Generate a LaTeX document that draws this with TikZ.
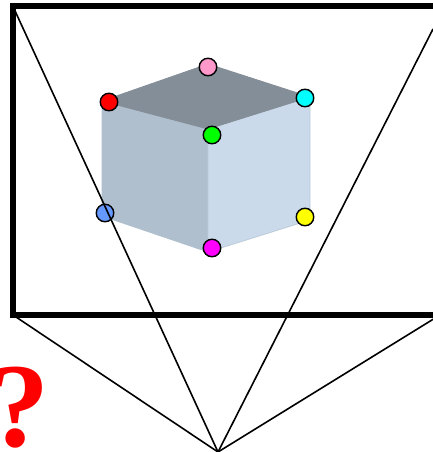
\documentclass[tikz,border=0pt]{standalone}
\usepackage{fontspec}
\setmainfont{Liberation Serif}
\definecolor{topface}{HTML}{848E98}
\definecolor{leftface}{HTML}{AFBFCE}
\definecolor{rightface}{HTML}{CADAEA}
\definecolor{edgelight}{HTML}{BCCBDA}
\definecolor{dotcyan}{RGB}{0,255,255}
\definecolor{dotmagenta}{RGB}{255,0,255}
\definecolor{dotgreen}{RGB}{0,255,0}
\definecolor{dotred}{RGB}{255,0,0}
\definecolor{dotyellow}{RGB}{255,255,0}
\definecolor{dotpink}{RGB}{255,153,204}
\definecolor{dotblue}{RGB}{102,153,255}
\tikzset{
  cornerdot/.style={circle,draw=black,line width=1.4pt,minimum size=17.5pt,inner sep=0pt},
  frame/.style={draw=black,line width=6pt,line cap=butt,line join=miter},
  ray/.style={draw=black,line width=1.6pt},
  face/.style={line width=.8pt,line join=round},
}
\begin{document}
\begin{tikzpicture}[x=1pt,y=-1pt]
\useasboundingbox (0,0) rectangle (433,452);
\clip (0,0) rectangle (433,452);
% cube
\coordinate (ct) at (208,64);
\coordinate (cl) at (102,101);
\coordinate (cr) at (310,97);
\coordinate (cm) at (208,129);
\coordinate (cbl) at (102,216);
\coordinate (cbr) at (310,220);
\coordinate (cb) at (208,252);
\fill[face,leftface,draw=leftface] (cl) -- (cm) -- (cb) -- (cbl) -- cycle;
\fill[face,rightface,draw=edgelight] (cm) -- (cr) -- (cbr) -- (cb) -- cycle;
\fill[face,topface,draw=topface] (ct) -- (cr) -- (cm) -- (cl) -- cycle;
% frame and rays
\coordinate (apex) at (218,452);
\coordinate (fa) at (13,6.5);
\coordinate (fb) at (13,315);
\coordinate (fc) at (440,315);
\coordinate (fd) at (440,6.5);
\coordinate (re) at (433,29);
% dots
\node[cornerdot,fill=dotred] (dred) at (109,102) {};
\node[cornerdot,fill=dotpink] (dpink) at (208,67) {};
\node[cornerdot,fill=dotcyan] (dcyan) at (305,98) {};
\node[cornerdot,fill=dotgreen] (dgreen) at (212,135) {};
\node[cornerdot,fill=dotblue] (dblue) at (105,213) {};
\node[cornerdot,fill=dotyellow] (dyellow) at (305,217) {};
\node[cornerdot,fill=dotmagenta] (dmag) at (212,248) {};
\draw[ray] (fa) -- (apex);
\draw[ray] (re) -- (apex);
\draw[ray] (fb) -- (apex);
\draw[ray] (fc) -- (apex);
\draw[frame] (fd) -- (fa) -- (fb) -- (fc);
\node[text=red,font=\fontsize{120}{120}\selectfont\bfseries,inner sep=0pt,anchor=base] (qm) at (20,446) {?};
\end{tikzpicture}
\end{document}
